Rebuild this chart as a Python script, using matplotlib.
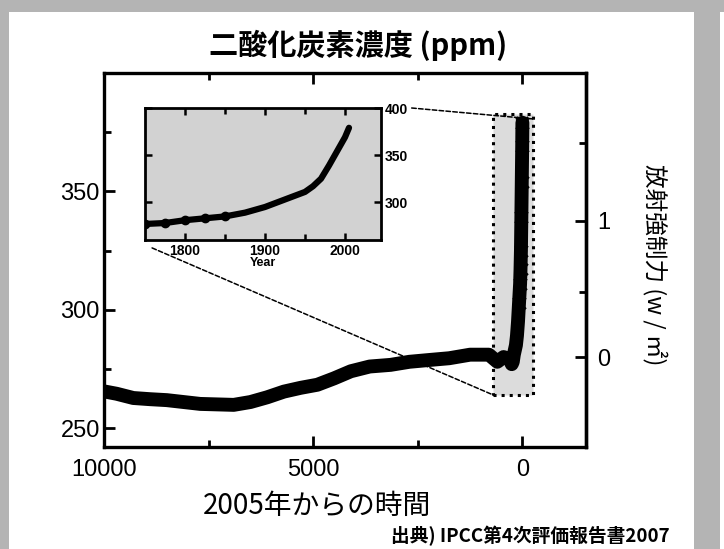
import matplotlib
matplotlib.use('Agg')
import matplotlib.pyplot as plt
import numpy as np
from matplotlib.patches import Rectangle, ConnectionPatch

plt.rcParams['font.family'] = ['Noto Sans CJK JP', 'DejaVu Sans']

# Holocene CO2 record (years before 2005, ppm)
holo_age = [10000, 9700, 9300, 8900, 8500, 8100, 7700, 7300, 6900, 6500, 6100, 5700,
            5300, 4900, 4500, 4100, 3650, 3150, 2700, 2200, 1750, 1250, 800, 600, 450, 300]
holo_co2 = [265.5, 264.5, 262.7, 262.2, 261.8, 261, 260.2, 260, 259.8, 261, 263, 265.4,
            267, 268.3, 271, 274, 276, 276.7, 278, 278.8, 279.5, 281, 281, 278, 280, 279]

# industrial era (inset)
ind_year = [1750, 1775, 1800, 1825, 1850, 1875, 1900, 1925, 1950, 1960, 1970, 1980, 1990, 2000, 2005]
ind_co2 = [277, 278, 281, 283, 285, 289, 295, 303, 311, 317, 325, 339, 354, 369, 379]

# zoomed window on the main axes
zoom_age = (700, -250)
zoom_co2 = (264, 382.6)

# radiative forcing scale: 5.35 ln(C / 280)
rf_ticks = [0, 1]
rf_minor = [0.5, 1.5]

ages = holo_age + [2005 - y for y in ind_year]
co2 = holo_co2 + ind_co2

fig = plt.figure(figsize=(7.24, 5.49), dpi=100)
fig.patch.set_facecolor('#b4b4b4')
# white paper panel inside speckled border
fig.patches.append(Rectangle((9 / 724, 0), (694 - 9) / 724, 1 - 12 / 549,
                             transform=fig.transFigure, facecolor='white',
                             edgecolor='none', zorder=-10))
fig.patches.append(Rectangle((720 / 724, 0), 4 / 724, 1 - 12 / 549,
                             transform=fig.transFigure, facecolor='white',
                             edgecolor='none', zorder=-10))

ax = fig.add_axes([104 / 724, 1 - 447 / 549, 482 / 724, 374 / 549])
ax.set_facecolor('white')
ax.plot(ages, co2, color='black', lw=10, solid_capstyle='round', solid_joinstyle='round', zorder=3)
ax.plot(ages[-8:], co2[-8:], color='black', lw=7, marker='x', ms=9, mew=2.5, zorder=3)

ax.add_patch(Rectangle((zoom_age[0], zoom_co2[0]), zoom_age[1] - zoom_age[0],
                       zoom_co2[1] - zoom_co2[0], facecolor='#dcdcdc',
                       edgecolor='black', lw=2.2, linestyle=':', zorder=2))

ax.set_xlim(10000, -1520)
ax.set_ylim(242, 400)
ax.set_xticks([10000, 5000, 0])
ax.set_xticklabels(['10000', '5000', '0'])
ax.set_xticks([7500, 2500], minor=True)
ax.set_yticks([250, 300, 350])
ax.set_yticks([275, 325, 375], minor=True)
for s in ax.spines.values():
    s.set_linewidth(2.4)
ax.tick_params(which='both', direction='in', top=True, right=False, width=2)
ax.tick_params(which='major', length=8)
ax.tick_params(which='minor', length=5)
ax.tick_params(axis='x', which='major', pad=9)
ax.tick_params(axis='y', which='major', pad=3)
for lab in ax.get_xticklabels() + ax.get_yticklabels():
    lab.set_family('Liberation Sans')
    lab.set_fontsize(17)

sec = ax.secondary_yaxis('right', functions=(lambda c: 5.35 * np.log(np.clip(c, 1, None) / 280),
                                             lambda f: 280 * np.exp(f / 5.35)))
sec.set_yticks(rf_ticks)
sec.set_yticks(rf_minor, minor=True)
sec.spines['right'].set_linewidth(2.4)
sec.tick_params(which='both', direction='in', width=2)
sec.tick_params(which='major', length=8, pad=8)
sec.tick_params(which='minor', length=5)
for lab in sec.get_yticklabels():
    lab.set_family('Liberation Sans')
    lab.set_fontsize(17)

# inset: industrial era
ins = fig.add_axes([145 / 724, 1 - 240 / 549, 236 / 724, 132 / 549])
ins.set_facecolor('#d2d2d2')
ins.plot(ind_year, ind_co2, color='black', lw=4.5, solid_capstyle='round', zorder=3)
ins.plot(ind_year[:5], ind_co2[:5], 'o', color='black', ms=6, zorder=3)
ins.set_xlim(1750, 2045)
ins.set_ylim(260, 400)
ins.set_xticks([1800, 1900, 2000])
ins.set_xticks([1850, 1950], minor=True)
ins.set_yticks([300, 350, 400])
for s in ins.spines.values():
    s.set_linewidth(2)
ins.tick_params(which='both', direction='in', top=True, right=True, left=True,
                labelleft=False, labelright=True, width=1.8)
ins.tick_params(which='major', length=5, pad=3)
ins.tick_params(which='minor', length=4)
for lab in ins.get_xticklabels() + ins.get_yticklabels():
    lab.set_family('Liberation Sans')
    lab.set_fontweight('bold')
    lab.set_fontsize(10)
ins.set_xlabel('Year', family='Liberation Sans', fontweight='bold', fontsize=9, labelpad=-1)

# dotted connector lines from the inset to the zoom window
con1 = ConnectionPatch(xyA=(1.13, 1.0), coordsA='axes fraction', axesA=ins,
                       xyB=(zoom_age[1], zoom_co2[1] - 2), coordsB='data', axesB=ax,
                       color='black', lw=1.1, linestyle=(0, (3, 1.5)), zorder=5)
con2 = ConnectionPatch(xyA=(0.03, -0.06), coordsA='axes fraction', axesA=ins,
                       xyB=(zoom_age[0], zoom_co2[0]), coordsB='data', axesB=ax,
                       color='black', lw=1.1, linestyle=(0, (3, 1.5)), zorder=5)
fig.add_artist(con1)
fig.add_artist(con2)

fig.text(358 / 724, 1 - 45 / 549, '二酸化炭素濃度 (ppm)', ha='center', va='center',
         fontsize=21, fontweight='bold')
fig.text(317 / 724, 1 - 506 / 549, '2005年からの時間', ha='center', va='center', fontsize=20)
fig.text(655 / 724, 1 - 265 / 549, '放射強制力 (w / ㎡)', ha='center', va='center',
         rotation=270, fontsize=17)
fig.text(670 / 724, 1 - 536 / 549, '出典) IPCC第4次評価報告書2007', ha='right', va='center',
         fontsize=13.5, fontweight='bold')

fig.savefig('out.png', dpi=100, facecolor=fig.get_facecolor())
